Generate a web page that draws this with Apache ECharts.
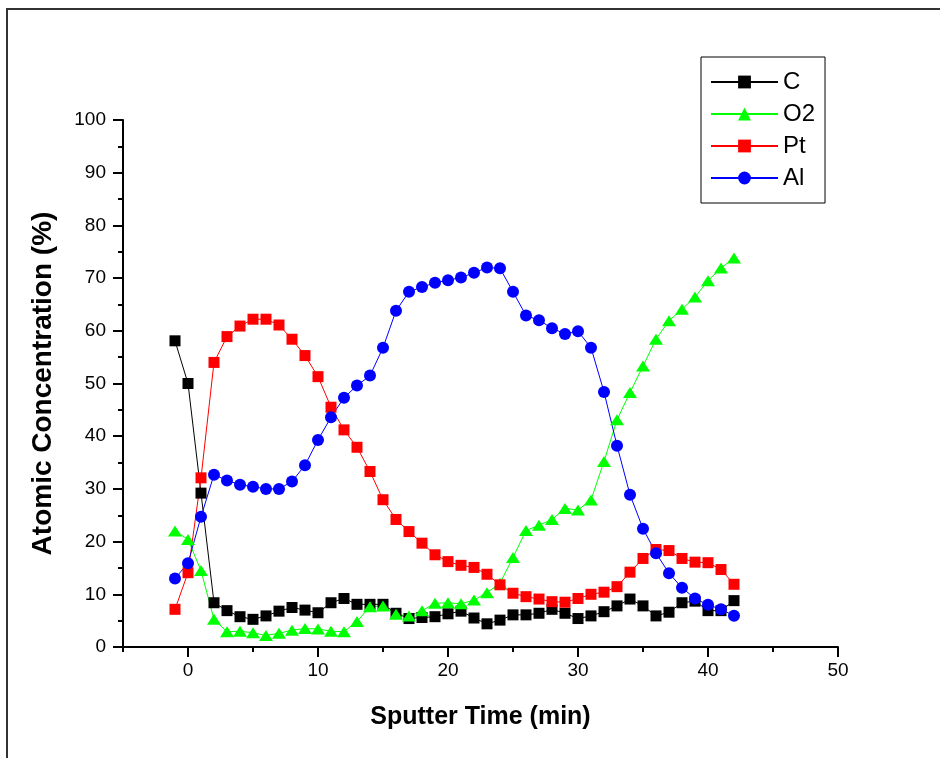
<!DOCTYPE html>
<html>
<head>
<meta charset="utf-8">
<script src="https://cdn.jsdelivr.net/npm/echarts@6/dist/echarts.min.js"></script>
<style>
  html, body { margin: 0; padding: 0; background: #fff; }
  #chart { width: 940px; height: 758px; }
</style>
</head>
<body>
<div id="chart"></div>
<script>
// Sputter depth profile: atomic concentration vs. sputter time
const sputterTime = [-1, 0, 1, 2, 3, 4, 5, 6, 7, 8, 9, 10, 11, 12, 13, 14, 15, 16, 17, 18, 19, 20,
  21, 22, 23, 24, 25, 26, 27, 28, 29, 30, 31, 32, 33, 34, 35, 36, 37, 38, 39, 40, 41, 42];

const carbon = [58.1, 50.0, 29.2, 8.4, 6.9, 5.75, 5.25, 5.9, 6.8, 7.5, 7.0, 6.5, 8.4, 9.2, 8.1, 8.1,
  8.1, 6.4, 5.4, 5.6, 5.75, 6.3, 6.8, 5.5, 4.4, 5.1, 6.1, 6.1, 6.4, 7.15, 6.4, 5.4, 5.9, 6.7, 7.8,
  9.1, 7.8, 5.9, 6.6, 8.4, 8.7, 6.9, 6.9, 8.8];

const oxygen = [22.0, 20.4, 14.5, 5.25, 2.9, 3.0, 2.7, 2.2, 2.6, 3.2, 3.5, 3.4, 3.0, 2.9, 4.85, 7.65,
  7.8, 6.2, 5.9, 6.9, 8.3, 8.4, 8.2, 8.9, 10.3, 12.1, 17.0, 22.1, 23.1, 24.2, 26.3, 26.0, 27.9, 35.2,
  43.1, 48.3, 53.3, 58.4, 61.9, 64.1, 66.4, 69.5, 71.9, 73.8];

const platinum = [7.15, 14.1, 32.1, 54.0, 58.9, 60.9, 62.2, 62.2, 61.1, 58.4, 55.3, 51.3, 45.5, 41.2,
  37.9, 33.3, 27.95, 24.2, 21.9, 19.7, 17.5, 16.2, 15.5, 15.1, 13.8, 11.8, 10.2, 9.55, 9.1, 8.6, 8.5,
  9.2, 10.0, 10.4, 11.45, 14.2, 16.8, 18.5, 18.3, 16.8, 16.1, 16.0, 14.7, 11.9];

const aluminium = [13.0, 15.9, 24.7, 32.7, 31.6, 30.8, 30.4, 30.0, 30.0, 31.4, 34.5, 39.3, 43.6, 47.3,
  49.6, 51.5, 56.8, 63.8, 67.4, 68.3, 69.1, 69.6, 70.1, 71.0, 72.0, 71.85, 67.4, 62.9, 62.0, 60.5,
  59.4, 59.9, 56.8, 48.4, 38.2, 28.9, 22.45, 17.8, 14.0, 11.25, 9.2, 8.0, 7.15, 5.95];

const seriesNames = ['C', 'O2', 'Pt', 'Al'];
const xMajorTicks = [0, 10, 20, 30, 40, 50];
const xMinorTicks = [-5, 5, 15, 25, 35, 45];

const pairs = arr => sputterTime.map((t, i) => [t, arr[i]]);

const FONT = 'Arial, "Liberation Sans", sans-serif';

function lineSeries(name, values, color, symbol, size) {
  return {
    name: name,
    type: 'line',
    xAxisIndex: 0,
    data: pairs(values),
    symbol: symbol,
    symbolSize: size,
    showAllSymbol: true,
    lineStyle: { color: color, width: 1 },
    itemStyle: { color: color },
    emphasis: { disabled: true },
    animation: false
  };
}

const chart = echarts.init(document.getElementById('chart'), null, { renderer: 'canvas' });

chart.setOption({
  backgroundColor: '#ffffff',
  animation: false,
  textStyle: { fontFamily: FONT },
  grid: { left: 123, top: 120, width: 715, height: 527, containLabel: false },
  legend: {
    data: seriesNames,
    orient: 'vertical',
    left: 701,
    top: 57,
    padding: [13, 10, 13, 9],
    itemWidth: 67,
    itemHeight: 16,
    itemGap: 8,
    borderColor: '#000',
    borderWidth: 1,
    textStyle: { fontFamily: FONT, fontSize: 24, color: '#000' },
    selectedMode: false
  },
  xAxis: [
    {
      type: 'value',
      min: -5,
      max: 50,
      position: 'bottom',
      name: 'Sputter Time (min)',
      nameLocation: 'middle',
      nameGap: 58,
      nameTextStyle: { fontFamily: FONT, fontSize: 25, fontWeight: 'bold', color: '#000' },
      splitLine: { show: false },
      axisLine: { show: true, onZero: false, lineStyle: { color: '#000', width: 2 } },
      axisTick: { show: true, inside: false, length: 10, customValues: xMajorTicks,
        lineStyle: { color: '#000', width: 2 } },
      axisLabel: { show: true, margin: 14, customValues: xMajorTicks,
        fontFamily: FONT, fontSize: 19, color: '#000' }
    },
    {
      type: 'value',
      min: -5,
      max: 50,
      position: 'bottom',
      splitLine: { show: false },
      axisLine: { show: false, onZero: false },
      axisTick: { show: true, inside: false, length: 5, customValues: xMinorTicks,
        lineStyle: { color: '#000', width: 2 } },
      axisLabel: { show: false }
    }
  ],
  yAxis: {
    type: 'value',
    min: 0,
    max: 100,
    interval: 10,
    name: 'Atomic Concentration (%)',
    nameLocation: 'middle',
    nameGap: 66,
    nameTextStyle: { fontFamily: FONT, fontSize: 28, fontWeight: 'bold', color: '#000' },
    splitLine: { show: false },
    axisLine: { show: true, onZero: false, lineStyle: { color: '#000', width: 2 } },
    axisTick: { show: true, inside: false, length: 10, lineStyle: { color: '#000', width: 2 } },
    minorTick: { show: true, splitNumber: 2, length: 5, lineStyle: { color: '#000', width: 2 } },
    axisLabel: { margin: 17, fontFamily: FONT, fontSize: 19, color: '#000' }
  },
  graphic: [
    {
      type: 'polyline',
      silent: true,
      shape: { points: [[7, 758], [7, 9], [940, 9]] },
      style: { stroke: '#333', lineWidth: 2, fill: null }
    }
  ],
  series: [
    lineSeries('C', carbon, '#000000', 'rect', 11),
    lineSeries('O2', oxygen, '#00ff00', 'triangle', [14, 11]),
    lineSeries('Pt', platinum, '#ff0000', 'rect', 11),
    lineSeries('Al', aluminium, '#0000ff', 'circle', 12)
  ]
});
</script>
</body>
</html>
